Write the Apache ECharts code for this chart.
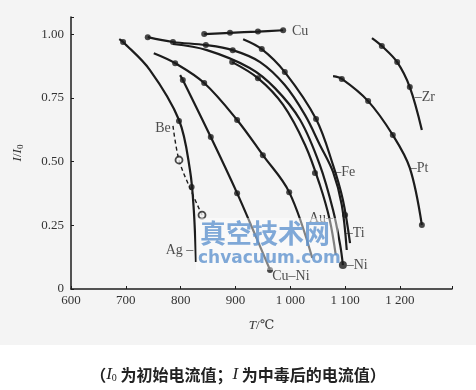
<!DOCTYPE html>
<html><head><meta charset="utf-8">
<script src="https://cdn.jsdelivr.net/npm/echarts@6/dist/echarts.min.js"></script>
<style>html,body{margin:0;padding:0;background:#fff}#c{width:476px;height:390px}</style>
</head><body><div id="c"></div>
<script>
// ---- tick labels ----
const xTickValues = [600, 700, 800, 900, 1000, 1100, 1200];
const xTickLabels = ['600', '700', '800', '900', '1 000', '1 100', '1 200'];
const yTickValues = [0, 0.25, 0.5, 0.75, 1.0];
const yTickLabels = ['0', '0.25', '0.50', '0.75', '1.00'];

// ---- curves: [T (°C), I/I0] ----
const cuLine = [[843, 1.000], [890, 1.005], [941, 1.010], [987, 1.015]];
const cuDots = [[843, 1.000], [890, 1.005], [941, 1.010], [987, 1.015]];

const zrLine = [[1149, 0.984], [1167, 0.953], [1195, 0.890], [1218, 0.792], [1240, 0.624]];
const zrDots = [[1167, 0.953], [1195, 0.890], [1218, 0.792]];

const ptLine = [[1078, 0.835], [1094, 0.824], [1142, 0.737], [1187, 0.604], [1218, 0.475], [1240, 0.251]];
const ptDots = [[1094, 0.824], [1142, 0.737], [1187, 0.604], [1240, 0.251]];

const tiLine = [[914, 0.980], [948, 0.941], [990, 0.851], [1047, 0.667], [1078, 0.486], [1096, 0.349], [1109, 0.180]];
const tiDots = [[948, 0.941], [990, 0.851], [1047, 0.667], [1100, 0.290]];

const feLine = [[740, 0.988], [786, 0.969], [846, 0.957], [895, 0.937], [945, 0.890], [990, 0.800], [1027, 0.682], [1054, 0.565], [1078, 0.459], [1094, 0.329], [1103, 0.153]];
const feDots = [[740, 0.988], [786, 0.969], [846, 0.957], [895, 0.937]];

const niLine = [[786, 0.961], [848, 0.937], [926, 0.867], [972, 0.788], [1018, 0.663], [1054, 0.486], [1078, 0.310], [1091, 0.173], [1096, 0.094]];
const niDots = [[1096, 0.094]];

const auLine = [[894, 0.890], [941, 0.827], [987, 0.722], [1027, 0.565], [1054, 0.408], [1072, 0.271], [1083, 0.133]];
const auDots = [[894, 0.890], [941, 0.827], [1045, 0.455]];

const cLine = [[751, 0.925], [790, 0.886], [843, 0.808], [903, 0.663], [950, 0.525], [998, 0.380], [1040, 0.122]];
const cDots = [[790, 0.886], [843, 0.808], [903, 0.663], [950, 0.525], [998, 0.380]];

const cuNiLine = [[799, 0.839], [804, 0.820], [855, 0.596], [903, 0.376], [936, 0.212], [963, 0.075]];
const cuNiDots = [[804, 0.820], [855, 0.596], [903, 0.376], [963, 0.075]];

const agLine = [[688, 0.980], [695, 0.969], [744, 0.859], [797, 0.663], [817, 0.467], [824, 0.310], [828, 0.106]];
const agDots = [[695, 0.969], [797, 0.659], [820, 0.400]];

const beLine = [[786, 0.640], [797, 0.506], [817, 0.396], [839, 0.290]];
const beDots = [[797, 0.506], [839, 0.290]];

// ---- curve labels: [text, T, I] ----
const rightLabels = [
  ['Cu', 1003, 1.012], ['–Zr', 1227, 0.753], ['–Pt', 1218, 0.475], ['–Fe', 1080, 0.459],
  ['–Ti', 1101, 0.220], ['–Ni', 1103, 0.094], ['Cu–Ni', 967, 0.051]
];
const leftLabels = [['Au–', 1078, 0.278], ['Ag –', 823, 0.153], ['Be', 782, 0.631]];

const INK = '#1c1c1c';
const SERIF = '"Liberation Serif", "DejaVu Serif", serif';
const series = [];
function addCurve(line, dots, opt) {
  opt = opt || {};
  series.push({
    type: 'line', data: line, smooth: 0.35, showSymbol: false, silent: true, z: 2,
    lineStyle: { color: INK, width: opt.dashed ? 1.4 : 2.2, type: opt.dashed ? [4, 3] : 'solid' }
  });
  if (dots) series.push({
    type: 'scatter', data: dots, silent: true, z: 3,
    symbol: 'circle', symbolSize: opt.open ? 7 : (opt.size || 6),
    itemStyle: opt.open ? { color: '#f3f3f3', borderColor: INK, borderWidth: 1.8 } : { color: INK }
  });
}
addCurve(cuLine, cuDots);
addCurve(zrLine, zrDots);
addCurve(ptLine, ptDots);
addCurve(tiLine, tiDots);
addCurve(feLine, feDots);
addCurve(niLine, niDots, { size: 8 });
addCurve(auLine, auDots);
addCurve(cLine, cDots);
addCurve(cuNiLine, cuNiDots);
addCurve(agLine, agDots);
addCurve(beLine, beDots, { dashed: true, open: true });

series.push({
  type: 'scatter', silent: true, symbolSize: 0, z: 5,
  data: rightLabels.map(d => ({ value: [d[1], d[2]], name: d[0] })),
  label: { show: true, position: 'right', distance: 0, formatter: p => p.name,
    fontFamily: SERIF, fontSize: 14, color: '#222' }
});
series.push({
  type: 'scatter', silent: true, symbolSize: 0, z: 5,
  data: leftLabels.map(d => ({ value: [d[1], d[2]], name: d[0] })),
  label: { show: true, position: 'left', distance: 0, formatter: p => p.name,
    fontFamily: SERIF, fontSize: 14, color: '#222' }
});

const chart = echarts.init(document.getElementById('c'), null, { renderer: 'canvas' });
chart.setOption({
  backgroundColor: '#ffffff',
  animation: false,
  grid: { left: 71, right: 24, top: 17, bottom: 101, containLabel: false },
  xAxis: {
    type: 'value', min: 600, max: 1295, interval: 100,
    name: '{i|T}/℃', nameLocation: 'middle', nameGap: 30,
    nameTextStyle: { fontFamily: SERIF, fontSize: 13, color: '#333',
      rich: { i: { fontStyle: 'italic', fontFamily: SERIF, fontSize: 13, color: '#333' } } },
    axisLine: { lineStyle: { color: INK, width: 1.5 } },
    axisTick: { inside: true, length: 3, lineStyle: { color: INK } },
    splitLine: { show: false },
    axisLabel: { fontFamily: SERIF, fontSize: 13, color: '#333', margin: 5,
      formatter: v => { const k = xTickValues.indexOf(v); return k >= 0 ? xTickLabels[k] : ''; } }
  },
  yAxis: {
    type: 'value', min: 0, max: 1.067, interval: 0.25,
    name: '{i|I}/{i|I}{s|0}', nameLocation: 'middle', nameGap: 46, nameRotate: 90,
    nameTextStyle: { fontFamily: SERIF, fontSize: 13, color: '#333',
      rich: { i: { fontStyle: 'italic', fontFamily: SERIF, fontSize: 13, color: '#333' },
              s: { fontFamily: SERIF, fontSize: 9, color: '#333', verticalAlign: 'bottom', padding: [6, 0, 0, 0] } } },
    axisLine: { show: true, lineStyle: { color: INK, width: 1.5 } },
    axisTick: { show: true, inside: true, length: 3, lineStyle: { color: INK } },
    splitLine: { show: false },
    axisLabel: { fontFamily: SERIF, fontSize: 13, color: '#333', margin: 7, showMaxLabel: true,
      formatter: v => { const k = yTickValues.findIndex(t => Math.abs(t - v) < 1e-6); return k >= 0 ? yTickLabels[k] : ''; } }
  },
  graphic: [
    { type: 'rect', z: -10, silent: true, shape: { x: 0, y: 0, width: 476, height: 345 }, style: { fill: '#f4f4f4' } },
    { type: 'rect', z: 50, silent: true, shape: { x: 196, y: 218, width: 142, height: 52 }, style: { fill: 'rgba(255,255,255,0.45)' } },
    { type: 'text', z: 51, silent: true, left: 200, top: 220,
      style: { text: '真空技术网', font: 'bold 26px "Noto Sans CJK SC"', fill: 'rgba(96,148,206,0.8)' } },
    { type: 'text', z: 51, silent: true, left: 198, top: 250,
      style: { text: 'chvacuum.com', font: 'bold 17px "DejaVu Sans"', fill: 'rgba(96,148,206,0.8)' } },
    { type: 'text', z: 51, silent: true, left: 'center', top: 366,
      style: {
        text: '（{i|I}{s|0} 为初始电流值；{i|I} 为中毒后的电流值）',
        font: 'bold 16px "Noto Sans CJK SC"', fill: '#222',
        rich: {
          i: { fontStyle: 'italic', fontFamily: SERIF, fontSize: 17, fill: '#222' },
          s: { fontFamily: SERIF, fontSize: 10, fill: '#222', verticalAlign: 'bottom', padding: [8, 0, 0, 0] }
        }
      } }
  ],
  series: series
});
</script>
</body></html>
